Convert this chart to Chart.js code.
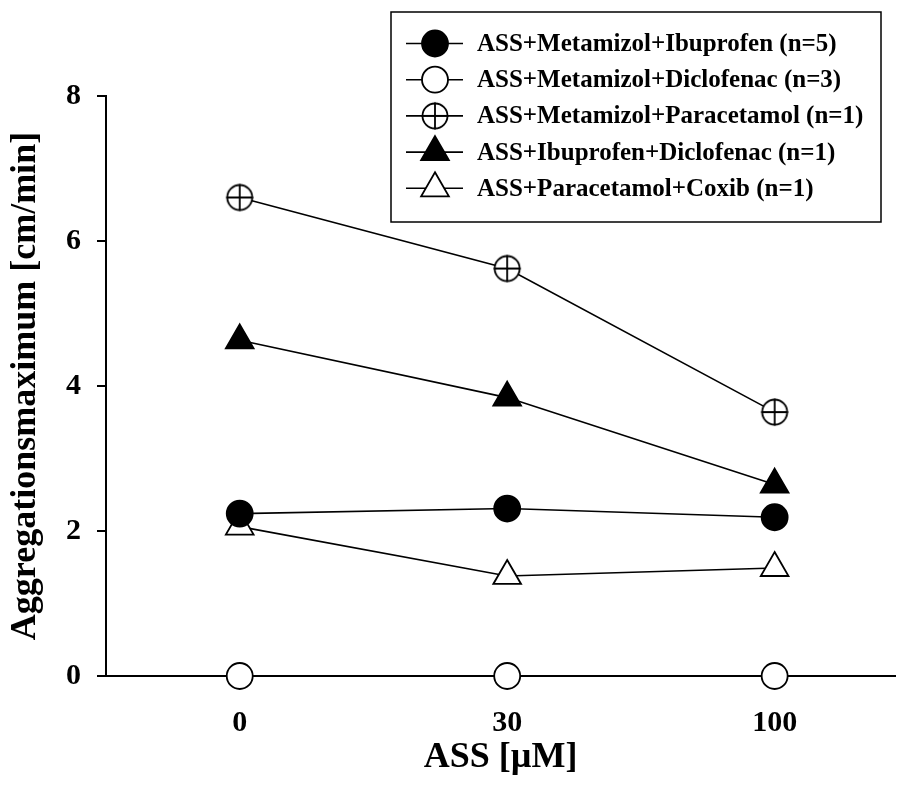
<!DOCTYPE html>
<html>
<head>
<meta charset="utf-8">
<script src="https://cdn.jsdelivr.net/npm/chart.js"></script>
<style>
  html, body { margin: 0; padding: 0; background: #fff; }
  #wrap { width: 897px; height: 798px; position: relative; }
</style>
</head>
<body>
<div id="wrap"><canvas id="aggChart" width="897" height="798"></canvas></div>
<script>
// ASS concentrations (µM) on the x axis
var doses = ['0', '30', '100'];

// aggregation maximum [cm/min] per combination
var metIbu = [2.24, 2.31, 2.19];
var metDiclo = [0, 0, 0];
var metPara = [6.60, 5.62, 3.64];
var ibuDiclo = [4.63, 3.84, 2.64];
var paraCoxib = [2.06, 1.38, 1.49];

var labels = [
    'ASS+Metamizol+Ibuprofen (n=5)',
    'ASS+Metamizol+Diclofenac (n=3)',
    'ASS+Metamizol+Paracetamol (n=1)',
    'ASS+Ibuprofen+Diclofenac (n=1)',
    'ASS+Paracetamol+Coxib (n=1)'
];

var yTicks = [0, 2, 4, 6, 8];

var FONT = "'Liberation Serif', 'Times New Roman', serif";

// circle with a plus inside, used as a point style
function crossCircle() {
    var c = document.createElement('canvas');
    c.width = 32; c.height = 32;
    var g = c.getContext('2d');
    g.fillStyle = '#fff';
    g.strokeStyle = '#000';
    g.lineWidth = 1.8;
    g.beginPath();
    g.arc(16, 16, 12.5, 0, Math.PI * 2);
    g.fill();
    g.stroke();
    g.beginPath();
    g.moveTo(16, 2.5); g.lineTo(16, 29.5);
    g.moveTo(2.5, 16); g.lineTo(29.5, 16);
    g.stroke();
    return c;
}
var plusImg = crossCircle();

function points(arr) {
    return arr.map(function (v, i) { return { x: i, y: v }; });
}

var styles = [
    { pointStyle: 'circle', radius: 13, fill: '#000' },
    { pointStyle: 'circle', radius: 13, fill: '#fff' },
    { pointStyle: plusImg, radius: 13, fill: '#fff' },
    { pointStyle: 'triangle', radius: 16, fill: '#000' },
    { pointStyle: 'triangle', radius: 16, fill: '#fff' }
];
var series = [metIbu, metDiclo, metPara, ibuDiclo, paraCoxib];

var datasets = series.map(function (s, i) {
    return {
        label: labels[i],
        data: points(s),
        borderColor: '#000',
        borderWidth: 1.6,
        pointStyle: styles[i].pointStyle,
        pointRadius: styles[i].radius,
        pointBackgroundColor: styles[i].fill,
        pointBorderColor: '#000',
        pointBorderWidth: 1.8,
        clip: false,
        tension: 0
    };
});

// legend drawn as a framed box with line + marker samples
function drawMarker(ctx, st, x, y) {
    ctx.save();
    ctx.fillStyle = st.fill;
    ctx.strokeStyle = '#000';
    ctx.lineWidth = 1.8;
    if (st.pointStyle === 'circle') {
        ctx.beginPath();
        ctx.arc(x, y, st.radius, 0, Math.PI * 2);
        ctx.fill(); ctx.stroke();
    } else if (st.pointStyle === 'triangle') {
        var r = st.radius, a = 0;
        ctx.beginPath();
        for (var k = 0; k < 3; k++) {
            var px = x + Math.sin(a) * r, py = y - Math.cos(a) * r;
            if (k === 0) ctx.moveTo(px, py); else ctx.lineTo(px, py);
            a += Math.PI * 2 / 3;
        }
        ctx.closePath();
        ctx.fill(); ctx.stroke();
    } else {
        ctx.drawImage(st.pointStyle, x - st.pointStyle.width / 2, y - st.pointStyle.height / 2);
    }
    ctx.restore();
}

var boxLegend = {
    id: 'boxLegend',
    afterDraw: function (chart) {
        var ctx = chart.ctx;
        ctx.save();
        ctx.strokeStyle = '#000';
        ctx.lineWidth = 1.5;
        ctx.strokeRect(391, 12, 490, 210);
        ctx.font = 'bold 25px ' + FONT;
        ctx.textBaseline = 'middle';
        ctx.textAlign = 'left';
        ctx.fillStyle = '#000';
        for (var i = 0; i < labels.length; i++) {
            var y = 43.5 + i * 36.2;
            ctx.beginPath();
            ctx.lineWidth = 1.6;
            ctx.moveTo(406, y);
            ctx.lineTo(463, y);
            ctx.stroke();
            drawMarker(ctx, styles[i], 435, y);
            ctx.fillText(labels[i], 477, y + 1);
        }
        ctx.restore();
    }
};

new Chart(document.getElementById('aggChart').getContext('2d'), {
    type: 'line',
    data: { datasets: datasets },
    options: {
        responsive: false,
        animation: false,
        layout: {
            autoPadding: false,
            padding: { top: 96, right: 2, left: 0, bottom: 0 }
        },
        plugins: {
            legend: { display: false },
            tooltip: { enabled: false }
        },
        scales: {
            x: {
                type: 'linear',
                min: -0.5,
                max: 2.45,
                afterBuildTicks: function (scale) {
                    scale.ticks = doses.map(function (d, i) { return { value: i }; });
                },
                afterFit: function (scale) {
                    scale.height = 122;
                    scale.paddingLeft = 0;
                    scale.paddingRight = 0;
                },
                grid: { display: false },
                border: { display: true, color: '#000', width: 2 },
                ticks: {
                    padding: 21,
                    color: '#000',
                    font: { family: FONT, size: 30, weight: 'bold' },
                    callback: function (v) { return doses[v]; }
                },
                title: {
                    display: true,
                    text: 'ASS [µM]',
                    color: '#000',
                    font: { family: FONT, size: 36, weight: 'bold' },
                    padding: { top: 0, bottom: 19 }
                }
            },
            y: {
                min: 0,
                max: 8,
                afterBuildTicks: function (scale) {
                    scale.ticks = yTicks.map(function (v) { return { value: v }; });
                },
                afterFit: function (scale) { scale.width = 106; },
                grid: {
                    drawOnChartArea: false,
                    drawTicks: true,
                    tickLength: 9,
                    color: '#000',
                    lineWidth: 2
                },
                border: { display: true, color: '#000', width: 2 },
                ticks: {
                    padding: 16,
                    color: '#000',
                    font: { family: FONT, size: 30, weight: 'bold' }
                },
                title: {
                    display: true,
                    text: 'Aggregationsmaximum [cm/min]',
                    color: '#000',
                    font: { family: FONT, size: 36, weight: 'bold' },
                    padding: { top: 4, bottom: 0 }
                }
            }
        }
    },
    plugins: [boxLegend]
});
</script>
</body>
</html>
